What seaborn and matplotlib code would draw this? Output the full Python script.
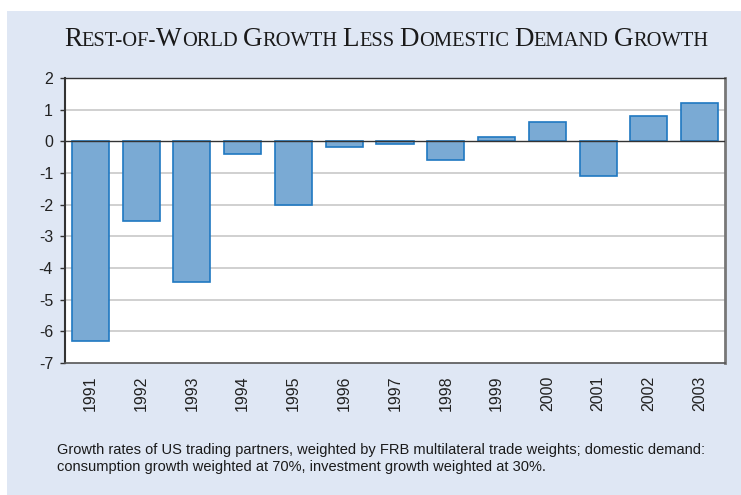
import matplotlib
matplotlib.use("Agg")
import matplotlib.pyplot as plt
import seaborn as sns
import pandas as pd
from matplotlib.patches import Rectangle
from matplotlib.offsetbox import TextArea, HPacker, AnchoredOffsetbox

years = ["1991", "1992", "1993", "1994", "1995", "1996", "1997",
         "1998", "1999", "2000", "2001", "2002", "2003"]
values = [-6.3, -2.5, -4.45, -0.4, -2.0, -0.17, -0.07,
          -0.58, 0.15, 0.6, -1.08, 0.79, 1.2]
yticks = [2, 1, 0, -1, -2, -3, -4, -5, -6, -7]
title_words = ["Rest-of-World", "Growth", "Less", "Domestic", "Demand", "Growth"]
caption = ("Growth rates of US trading partners, weighted by FRB multilateral trade weights; domestic demand:\n"
           "consumption growth weighted at 70%, investment growth weighted at 30%.")

sns.set_theme(style="white")
plt.rcParams['font.family'] = ['Liberation Sans', 'DejaVu Sans']

W, H = 741, 495
fig = plt.figure(figsize=(W / 100, H / 100), dpi=100)
fig.patch.set_facecolor("white")
bg = "#dfe7f4"
fig.patches.append(Rectangle((7 / W, 0), 1 - 7 / W, 1 - 11 / H, transform=fig.transFigure,
                             facecolor=bg, edgecolor="none", zorder=-10))

left, right, top, bottom = 65, 725, 78, 363
ax = fig.add_axes([left / W, 1 - bottom / H, (right - left) / W, (bottom - top) / H])
ax.set_facecolor("white")

df = pd.DataFrame({"year": years, "value": values})
sns.barplot(data=df, x="year", y="value", color="#7aaad4", saturation=1, width=0.73,
            edgecolor="#1f78c1", linewidth=1.2, ax=ax, zorder=3)

ax.set_ylim(-7, 2)
ax.set_yticks(yticks)
ax.set_yticklabels([str(t) for t in yticks], fontsize=11.5, color="#222222")
ax.set_xlim(-0.5, len(years) - 0.5)
ax.set_xticks(range(len(years)))
ax.set_xticklabels(years, rotation=90, fontsize=11.5, color="#222222")
for t in yticks:
    if t != 0 and t not in (2, -7):
        ax.axhline(t, color="#c8c8c8", linewidth=1.2, zorder=1)
ax.axhline(0, color="#333333", linewidth=1.0, zorder=4)
ax.set_xlabel("")
ax.set_ylabel("")
ax.tick_params(axis="y", length=3.6, width=1, color="#333333", left=True, pad=5)
ax.tick_params(axis="x", length=0, pad=9)
for s in ["left", "top"]:
    ax.spines[s].set_color("#333333")
ax.spines["left"].set_linewidth(1.5)
ax.spines["top"].set_linewidth(1.0)
ax.spines["bottom"].set_color("#555555")
ax.spines["bottom"].set_linewidth(1.2)
ax.spines["right"].set_color("#777777")
ax.spines["right"].set_linewidth(2.0)

# Small-caps title
parts = []
big, small = 19.5, 14.8
for i, w in enumerate(title_words):
    merged = []
    for ch in w:
        sz = big if ch.isupper() else small
        c = ch.upper()
        if merged and merged[-1][1] == sz:
            merged[-1][0] += c
        else:
            merged.append([c, sz])
    for txt, sz in merged:
        parts.append(TextArea(txt, textprops=dict(fontsize=sz, family="Liberation Serif",
                                                  color="#1a1a1a")))
    if i < len(title_words) - 1:
        parts.append(TextArea(" ", textprops=dict(fontsize=small, family="Liberation Serif")))
pack = HPacker(children=parts, align="baseline", pad=0, sep=0)
ab = AnchoredOffsetbox(loc="center", child=pack, frameon=False,
                       bbox_to_anchor=(386 / W, 1 - 40 / H), bbox_transform=fig.transFigure,
                       borderpad=0, pad=0)
fig.add_artist(ab)

fig.text(57 / W, 1 - 443 / H, caption, ha="left", va="top", fontsize=10.5,
         family=["Liberation Sans", "DejaVu Sans"],
         color="#1a1a1a", linespacing=1.3)

fig.savefig("out.png", dpi=100, facecolor=fig.get_facecolor())
